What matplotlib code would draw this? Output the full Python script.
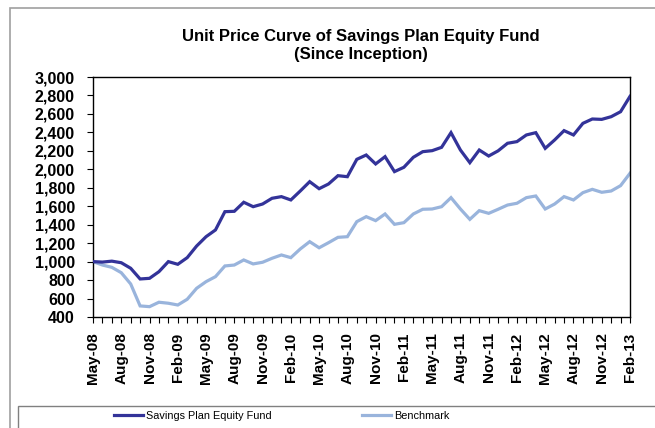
import matplotlib.pyplot as plt
import matplotlib.patches as mpatches
import numpy as np

plt.rcParams['font.family'] = ['Liberation Sans', 'DejaVu Sans']

# monthly data, May-08 .. Feb-13
months = ['May', 'Jun', 'Jul', 'Aug', 'Sep', 'Oct', 'Nov', 'Dec', 'Jan', 'Feb', 'Mar', 'Apr']
start_year = 8
n = 58
labels = []
for i in range(n):
    m = months[i % 12]
    yr = start_year + (i + 4) // 12
    labels.append(f'{m}-{yr:02d}')

fund = [1000, 995, 1005, 988, 928, 812, 819, 891, 1000, 971,
        1043, 1169, 1270, 1343, 1541, 1545, 1643, 1595, 1624, 1686,
        1704, 1668, 1765, 1866, 1790, 1841, 1931, 1920, 2108, 2155,
        2058, 2137, 1975, 2022, 2130, 2191, 2202, 2238, 2397, 2209,
        2072, 2209, 2144, 2200, 2282, 2300, 2372, 2397, 2227, 2318,
        2419, 2372, 2498, 2545, 2541, 2570, 2624, 2790]
bench = [1000, 963, 938, 880, 758, 520, 512, 560, 549, 530,
         592, 711, 783, 837, 953, 963, 1018, 975, 993, 1036,
         1072, 1043, 1137, 1216, 1150, 1205, 1263, 1270, 1433, 1487,
         1444, 1516, 1404, 1422, 1516, 1567, 1570, 1595, 1693, 1570,
         1458, 1552, 1523, 1567, 1613, 1632, 1693, 1711, 1570, 1624,
         1704, 1668, 1747, 1783, 1751, 1765, 1823, 1957]

fig = plt.figure(figsize=(6.55, 4.28), dpi=100)
ax = fig.add_axes([93/655, 1-317/428, (630-93)/655, (317-77)/428])

x = np.arange(n)
l1, = ax.plot(x, fund, color='#333399', lw=2.3, solid_joinstyle='miter', zorder=3)
l2, = ax.plot(x, bench, color='#99B4DC', lw=2.3, solid_joinstyle='miter', zorder=2)

ax.set_xlim(0, n-1)
ax.set_ylim(400, 3000)
ax.set_yticks(range(400, 3001, 200))
ax.set_yticklabels([f'{v:,}' for v in range(400, 3001, 200)], fontweight='bold', fontsize=11.5)
ax.set_xticks(x)
ax.set_xticklabels([lab if i % 3 == 0 else '' for i, lab in enumerate(labels)],
                   rotation=90, fontweight='bold', fontsize=11)
ax.tick_params(axis='y', direction='out', length=4, width=0.8, pad=9)
ax.tick_params(axis='x', direction='out', length=4, width=0.8, pad=7)
for s in ax.spines.values():
    s.set_linewidth(1.0)
    s.set_color('black')

fig.text(361/655, 1-37/428, 'Unit Price Curve of Savings Plan Equity Fund',
         ha='center', va='center', fontweight='bold', fontsize=12)
fig.text(361/655, 1-55/428, '(Since Inception)',
         ha='center', va='center', fontweight='bold', fontsize=12)

# outer chart border and legend box
fig.add_artist(mpatches.Rectangle((10/655, -0.1), 1.2, 1-8/428+0.1, transform=fig.transFigure,
                                  fill=False, edgecolor='#a0a0a0', lw=1.2))
fig.add_artist(mpatches.Rectangle((18/655, -0.1), 1.2, 0.1+(428-406)/428, transform=fig.transFigure,
                                  fill=False, edgecolor='#808080', lw=1.0))

fig.legend([l1, l2], ['Savings Plan Equity Fund', 'Benchmark'], loc='center left',
           bbox_to_anchor=(109/655, 1-416/428), ncol=2, frameon=False,
           fontsize=7.8, handlelength=2.6, handletextpad=0.3, columnspacing=8.4, borderpad=0)

fig.savefig('out.png', dpi=100)
